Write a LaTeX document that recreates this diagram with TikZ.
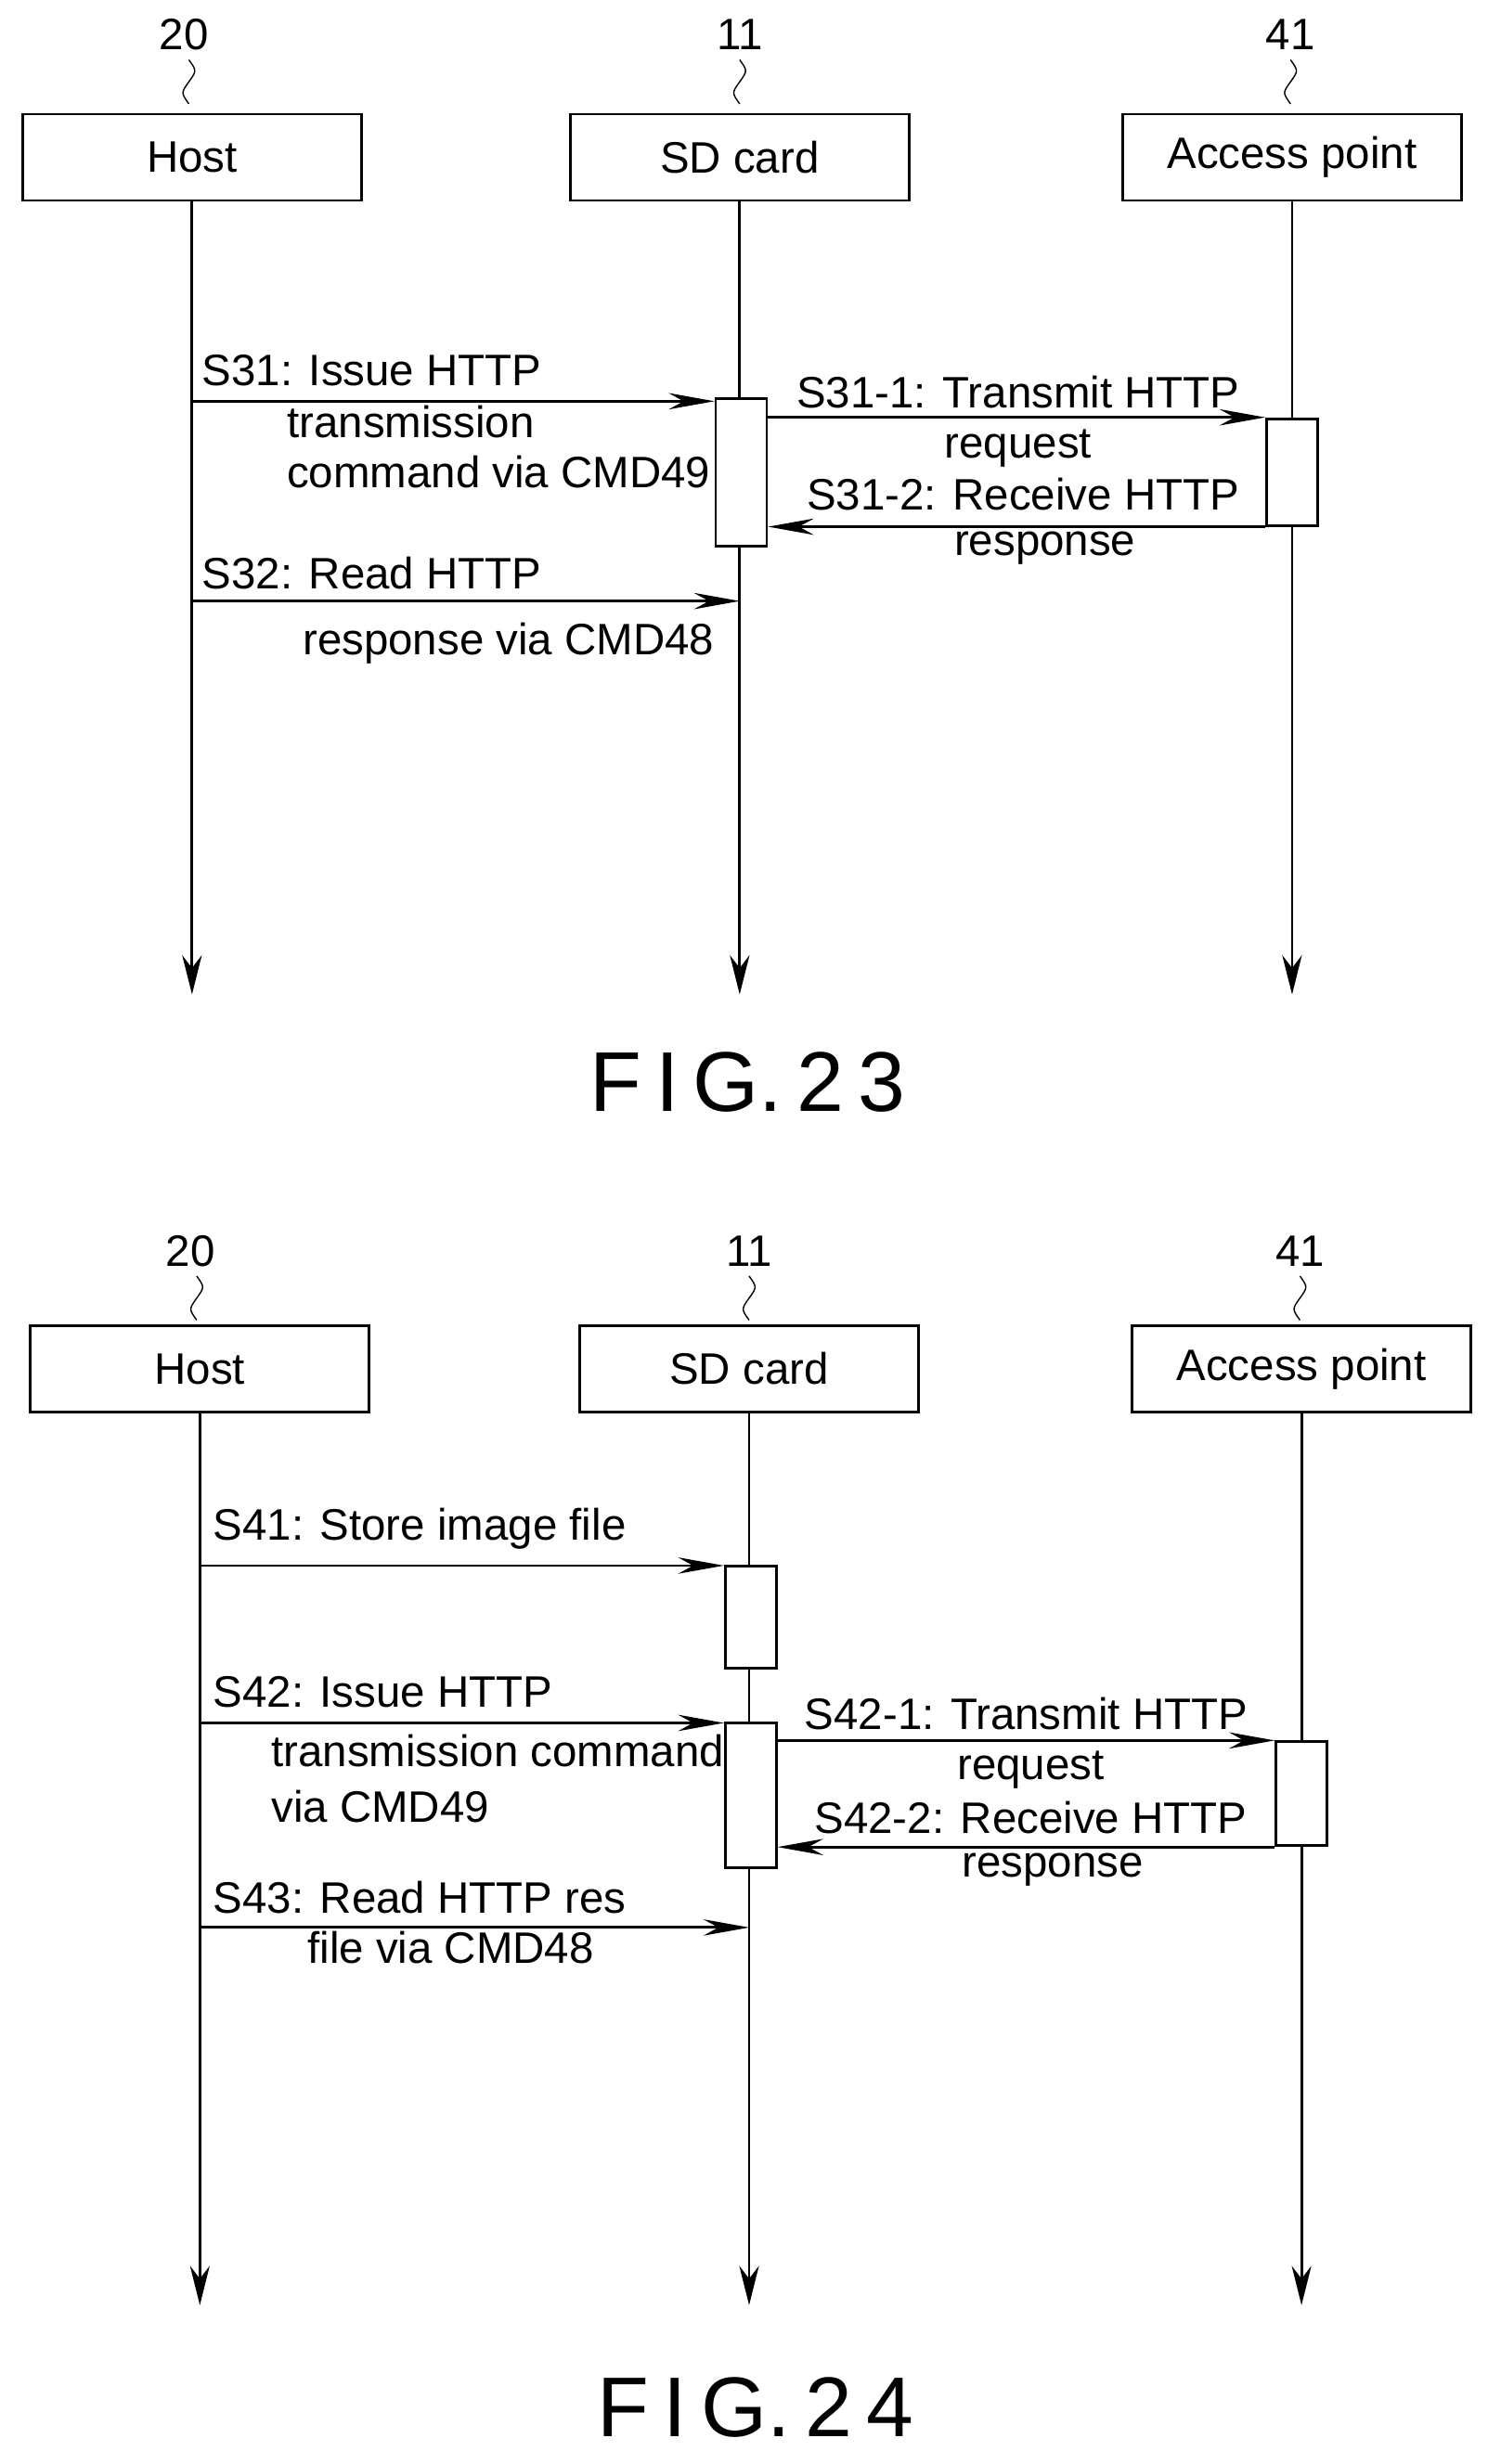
\documentclass[tikz,border=0pt]{standalone}
\usepackage{fontspec}
\setmainfont{Liberation Sans}
\usetikzlibrary{arrows.meta,positioning}
\tikzstyle{Block} = [draw, rectangle, thick, minimum height=0.93cm, minimum width=3.65cm, font=\fontsize{13.5}{16}\selectfont]
\tikzstyle{Act} = [draw, rectangle, thick, fill=white, minimum width=0.55cm, inner sep=0pt]
\tikzstyle{Life} = [thick, -{Stealth[length=12pt,width=6pt]}]
\tikzstyle{Msg} = [thick, -{Stealth[length=14pt,width=5pt]}]
\tikzstyle{Lbl} = [font=\fontsize{13.5}{16}\selectfont, inner sep=0pt]
\tikzstyle{Ref} = [font=\fontsize{13.5}{16}\selectfont]
\tikzstyle{Fig} = [font=\fontsize{26}{30}\selectfont]
\newcommand{\squig}[2]{\draw (#1,#2) .. controls (#1+5,#2+7) .. (#1,#2+14) .. controls (#1-5,#2+21) .. (#1,#2+28);}

\begin{document}
\begin{tikzpicture}[x=0.01695cm, y=-0.01695cm]
    \useasboundingbox (0,0) rectangle (945,1566);
    % FIG. 23
    \node[Ref] (n20a) at (117,22) {20};
    \node[Ref] (n11a) at (470,22) {11};
    \node[Ref] (n41a) at (820,22) {41};
    \squig{120}{38} \squig{470}{38} \squig{820}{38}
    \node[Block] (hostA) at (122,100) {Host};
    \node[Block] (sdA)   at (470,100) {SD card};
    \node[Block] (apA)   at (821,100) {Access point};
    \coordinate (hostAend) at (122,632);
    \coordinate (sdAend)   at (470,632);
    \coordinate (apAend)   at (821,632);
    \draw[Life] (hostA) to (hostAend);
    \draw[Life] (sdA)   to (sdAend);
    \draw[Life] (apA)   to (apAend);
    \node[Act, minimum height=1.59cm] (sdActA) at (471,300) {};
    \node[Act, minimum height=1.15cm] (apActA) at (821,300) {};
    \coordinate (s31) at (122,255);
    \draw[Msg] (s31) to (sdActA.west |- s31);
    \node[Lbl, anchor=base west] at (128,245) {S31: Issue HTTP};
    \node[Lbl, anchor=base west] at (182,278) {transmission};
    \node[Lbl, anchor=base west] at (182,310) {command via CMD49};
    \draw[Msg] (sdActA.north east |- apActA.north) to (apActA.north west);
    \node[Lbl, anchor=base] at (647,259) {S31-1: Transmit HTTP};
    \node[Lbl, anchor=base] at (647,291) {request};
    \draw[Msg] (apActA.south west) to (sdActA.east |- apActA.south);
    \node[Lbl, anchor=base] at (650,324) {S31-2: Receive HTTP};
    \node[Lbl, anchor=base] at (664,353) {response};
    \coordinate (s32) at (122,382);
    \draw[Msg] (s32) to (sdA.south |- s32);
    \node[Lbl, anchor=base west] at (128,374) {S32: Read HTTP};
    \node[Lbl, anchor=base west] at (192,416) {response via CMD48};
    \node[Fig] (fig23) at (475,688) {F\,I\,G.\,2\,3};
    % FIG. 24
    \node[Ref] (n20b) at (121,795) {20};
    \node[Ref] (n11b) at (476,795) {11};
    \node[Ref] (n41b) at (826,795) {41};
    \squig{125}{811} \squig{476}{811} \squig{826}{811}
    \node[Block] (hostB) at (127,870) {Host};
    \node[Block] (sdB)   at (476,870) {SD card};
    \node[Block] (apB)   at (827,870) {Access point};
    \coordinate (hostBend) at (127,1465);
    \coordinate (sdBend)   at (476,1465);
    \coordinate (apBend)   at (827,1465);
    \draw[Life] (hostB) to (hostBend);
    \draw[Life] (sdB)   to (sdBend);
    \draw[Life] (apB)   to (apBend);
    \node[Act, minimum height=1.1cm]  (sdActB1) at (477,1028) {};
    \node[Act, minimum height=1.56cm] (sdActB2) at (477,1141) {};
    \node[Act, minimum height=1.12cm] (apActB)  at (827,1140) {};
    \coordinate (s41) at (127,995);
    \draw[Msg] (s41) to (sdActB1.west |- s41);
    \node[Lbl, anchor=base west] at (135,979) {S41: Store image file};
    \coordinate (s42) at (127,1095);
    \draw[Msg] (s42) to (sdActB2.west |- s42);
    \node[Lbl, anchor=base west] at (135,1085) {S42: Issue HTTP};
    \node[Lbl, anchor=base west] at (172,1123) {transmission command};
    \node[Lbl, anchor=base west] at (172,1158) {via CMD49};
    \draw[Msg] (sdActB2.north east |- apActB.north) to (apActB.north west);
    \node[Lbl, anchor=base] at (652,1099) {S42-1: Transmit HTTP};
    \node[Lbl, anchor=base] at (655,1131) {request};
    \draw[Msg] (apActB.south west) to (sdActB2.east |- apActB.south);
    \node[Lbl, anchor=base] at (655,1165) {S42-2: Receive HTTP};
    \node[Lbl, anchor=base] at (669,1193) {response};
    \coordinate (s43) at (127,1225);
    \draw[Msg] (s43) to (sdB.south |- s43);
    \node[Lbl, anchor=base west] at (135,1216) {S43: Read HTTP res};
    \node[Lbl, anchor=base west] at (195,1248) {file via CMD48};
    \node[Fig] (fig24) at (480,1530) {F\,I\,G.\,2\,4};
\end{tikzpicture}
\end{document}
